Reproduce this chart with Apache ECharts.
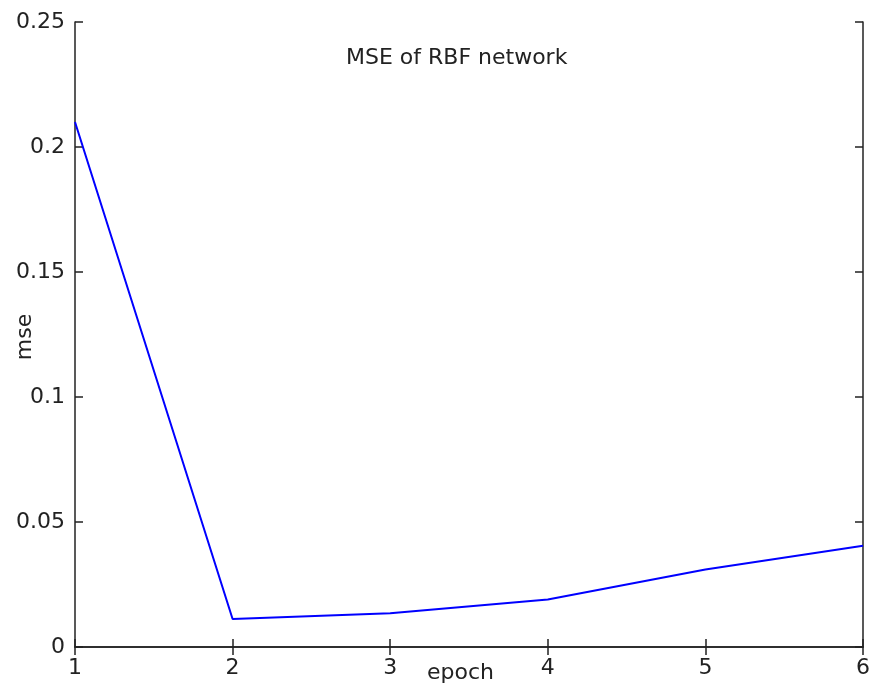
<!DOCTYPE html>
<html>
<head>
<meta charset="utf-8">
<script src="https://cdn.jsdelivr.net/npm/echarts@6/dist/echarts.min.js"></script>
<style>
html,body{margin:0;padding:0;background:#fff;}
#chart{width:873px;height:690px;}
</style>
</head>
<body>
<div id="chart"></div>
<script>
const epochs = [1, 2, 3, 4, 5, 6];
const mseValues = [0.21, 0.0112, 0.0135, 0.019, 0.031, 0.0405];
const titleText = 'MSE of RBF network';
const xName = 'epoch';
const yName = 'mse';

const FONT = 'DejaVu Sans';
const chart = echarts.init(document.getElementById('chart'), null, {renderer: 'canvas'});
const axisLine = {show: true, lineStyle: {color: '#222', width: 1.5}};
const tick = {show: true, inside: true, length: 8, lineStyle: {color: '#222', width: 1.5}};
const label = {color: '#222', fontFamily: FONT, fontSize: 22};

chart.setOption({
  animation: false,
  backgroundColor: '#fff',
  grid: {left: 75, top: 22, right: 5, bottom: 43, containLabel: false},
  xAxis: [
    {type: 'value', position: 'bottom', min: 1, max: 6, interval: 1,
     axisLine: axisLine, axisTick: tick, splitLine: {show: false},
     axisLabel: Object.assign({margin: 10}, label)},
    {type: 'value', position: 'top', min: 1, max: 6, interval: 1,
     axisLine: axisLine, axisTick: tick, splitLine: {show: false},
     axisLabel: {show: false}}
  ],
  yAxis: [
    {type: 'value', position: 'left', min: 0, max: 0.25, interval: 0.05,
     axisLine: axisLine, axisTick: tick, splitLine: {show: false},
     axisLabel: Object.assign({margin: 10}, label)},
    {type: 'value', position: 'right', min: 0, max: 0.25, interval: 0.05,
     axisLine: axisLine, axisTick: tick, splitLine: {show: false},
     axisLabel: {show: false}}
  ],
  graphic: [
    {type: 'text', left: 346, top: 47,
     style: {text: titleText, fill: '#222', font: '22px "DejaVu Sans"'}},
    {type: 'text', left: 427, top: 662,
     style: {text: xName, fill: '#222', font: '22px "DejaVu Sans"'}},
    {type: 'text', x: 25, y: 337, rotation: Math.PI / 2,
     style: {text: yName, fill: '#222', font: '22px "DejaVu Sans"', align: 'center', verticalAlign: 'middle'}}
  ],
  series: [{
    type: 'line',
    data: epochs.map((e, i) => [e, mseValues[i]]),
    showSymbol: false,
    lineStyle: {color: '#0000ff', width: 2},
    itemStyle: {color: '#0000ff'}
  }]
});
</script>
</body>
</html>
